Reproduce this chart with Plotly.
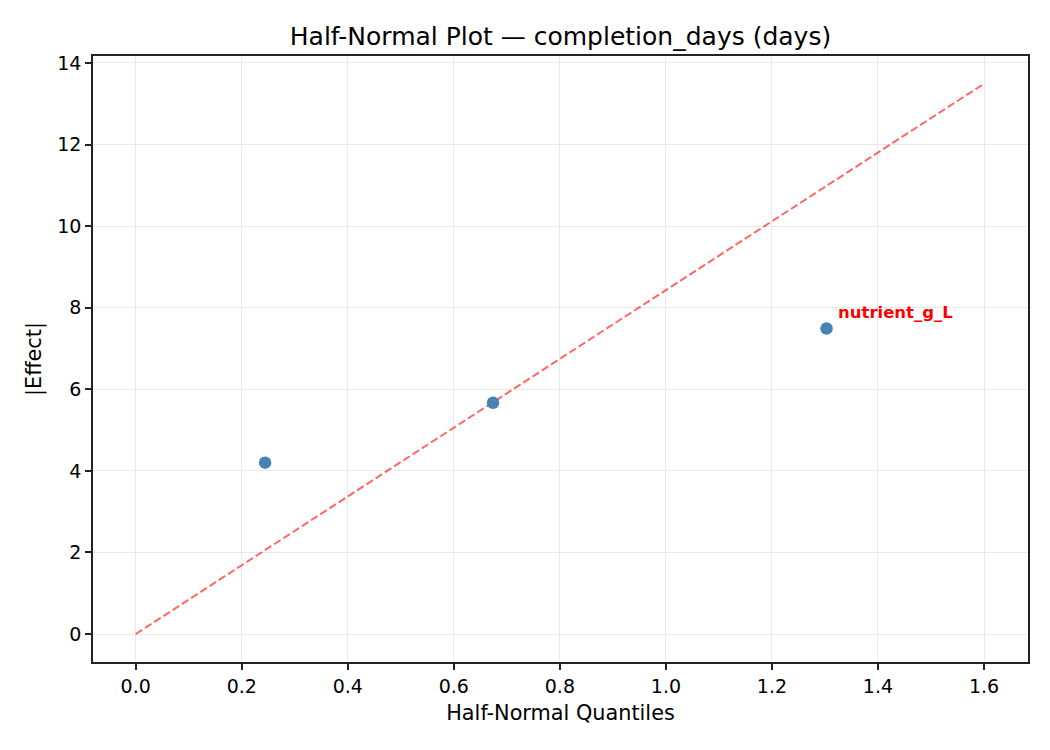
import plotly.graph_objects as go

# half-normal plot data
effect_names = ['factor_1', 'factor_2', 'nutrient_g_L']
quantiles = [0.244, 0.674, 1.303]
abs_effects = [4.20, 5.67, 7.49]
label_names = ['nutrient_g_L']

ref_x = [0.0, 1.6]
ref_y = [0.0, 13.49]

fig = go.Figure()

fig.add_trace(go.Scatter(
    x=ref_x, y=ref_y, mode='lines',
    line=dict(color='rgba(255,0,0,0.6)', width=2, dash='7.7px,3.3px'),
    showlegend=False, hoverinfo='skip'))

fig.add_trace(go.Scatter(
    x=quantiles, y=abs_effects, mode='markers', text=effect_names,
    marker=dict(color='#4682b4', size=12.5, line=dict(width=0)),
    showlegend=False))

for name, qx, ey in zip(effect_names, quantiles, abs_effects):
    if name in label_names:
        fig.add_annotation(
            x=qx, y=ey, text='<b>' + name + '</b>', showarrow=False,
            xanchor='left', yanchor='bottom', xshift=9, yshift=4,
            font=dict(family='DejaVu Sans', size=16.5, color='red'))

axis_common = dict(
    showline=True, linecolor='#222222', linewidth=1.6, mirror=True,
    ticks='outside', ticklen=6, tickwidth=1.6, tickcolor='#222222',
    showgrid=True, gridcolor='#e9e9e9', gridwidth=1.4,
    zeroline=False,
    tickfont=dict(family='DejaVu Sans', size=19, color='black'))

fig.update_xaxes(
    range=[-0.0806, 1.683], tick0=0, dtick=0.2, tickformat='.1f',
    title=dict(text='Half-Normal Quantiles', standoff=10,
               font=dict(family='DejaVu Sans', size=20.8, color='black')),
    **axis_common)
fig.update_yaxes(
    range=[-0.686, 14.17], tick0=0, dtick=2,
    title=dict(text='|Effect|', standoff=10,
               font=dict(family='DejaVu Sans', size=20.8, color='black')),
    **axis_common)

# page body adds an 8px offset, so margins are shifted to compensate
fig.update_layout(
    width=1050, height=750,
    margin=dict(l=85, r=30, t=48, b=96),
    paper_bgcolor='white', plot_bgcolor='white',
    title=dict(text='Half-Normal Plot \u2014 completion_days (days)',
               x=0.5, xref='paper', xanchor='center', y=0.963, yanchor='middle',
               font=dict(family='DejaVu Sans', size=25, color='black')),
    font=dict(family='DejaVu Sans'))

fig.write_html('out.html')
